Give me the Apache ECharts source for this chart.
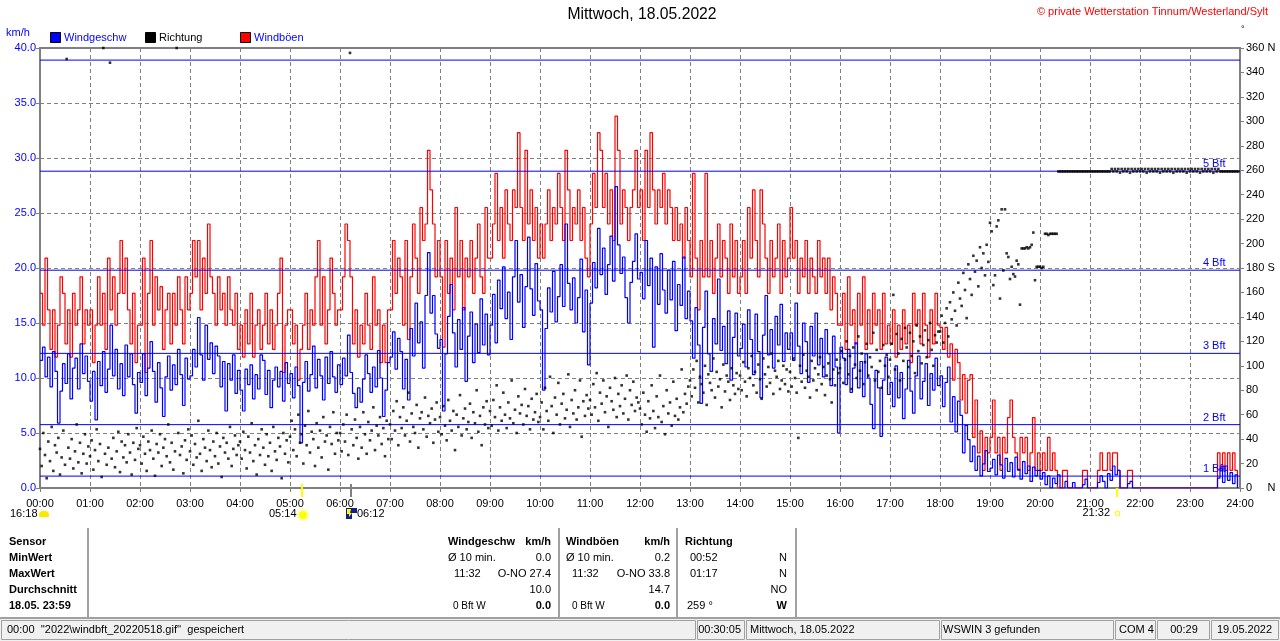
<!DOCTYPE html>
<html><head><meta charset="utf-8">
<script src="https://cdn.jsdelivr.net/npm/echarts/dist/echarts.min.js"></script>
<style>html,body{margin:0;padding:0;background:#fff}#c{width:1280px;height:641px}</style>
</head><body><div id="c"></div>
<script>
// ---- data ----
const speedStepMin = 3;   // minutes between speed / gust samples
const dirStepMin = 2;     // minutes between direction samples

const speedKmh = [
 11.6,12.8,10.1,11.9,9.2,12.4,10.6,5.9,8.8,11.3,9.5,12.2,8.1,10.9,11.8,9.0,13.1,10.4,12.0,9.7,
 7.9,10.6,6.2,11.5,9.3,12.4,8.7,10.8,14.8,10.2,12.6,9.0,11.3,8.4,13.0,10.1,12.2,9.4,6.8,10.5,
 9.6,12.2,8.4,10.9,13.3,10.6,7.8,11.4,9.1,6.5,10.1,12.0,8.9,11.2,9.4,12.6,10.3,7.5,11.8,9.9,
 10.2,12.6,11.0,15.5,12.1,9.8,14.8,11.7,13.2,10.4,12.9,12.0,9.2,11.5,7.0,11.3,9.8,12.1,8.6,10.7,
 8.9,7.0,10.8,9.4,11.2,8.1,10.3,9.0,12.1,11.6,8.5,10.7,7.3,9.8,11.0,9.2,10.6,7.9,11.4,9.5,
 10.4,8.2,11.0,9.3,4.1,9.6,11.5,8.8,10.3,12.9,9.1,11.7,10.2,8.0,11.9,9.5,12.4,10.1,8.7,11.2,
 9.4,11.8,10.2,13.9,10.5,8.6,7.3,9.1,7.8,9.9,12.1,10.4,8.7,11.0,9.2,12.5,10.0,6.5,8.9,11.4,
 11.9,14.2,10.8,13.6,12.4,9.0,11.7,8.0,14.5,12.0,16.8,13.2,15.1,10.9,17.5,21.4,15.9,17.5,14.0,12.7,
 13.5,7.0,12.2,15.6,18.5,14.1,11.0,15.3,12.6,16.4,9.7,13.8,16.0,11.4,14.9,12.3,17.2,13.0,15.8,12.1,
 14.8,17.6,13.2,18.9,16.3,20.1,15.4,17.8,13.5,19.2,22.5,16.9,19.4,14.6,18.3,22.8,18.1,15.7,20.4,17.0,
 16.2,8.9,14.5,18.2,16.0,19.7,15.1,17.4,20.3,16.5,24.0,18.6,16.2,19.1,15.0,17.3,20.8,14.2,18.0,11.2,
 16.8,20.5,18.2,23.6,19.4,21.8,17.6,20.3,22.9,18.8,27.4,22.1,19.5,21.0,17.3,15.0,18.7,20.6,23.1,19.0,
 19.6,17.2,22.5,18.4,20.9,12.8,20.1,16.7,21.3,18.0,15.9,19.8,17.1,20.6,14.3,18.5,16.6,21.0,15.4,17.9,
 15.2,11.8,16.4,13.0,7.7,14.6,17.9,12.2,10.6,15.4,13.1,19.0,12.5,14.7,11.3,16.1,9.8,13.7,15.9,12.0,
 12.7,14.9,11.0,16.2,13.5,10.3,15.8,12.4,8.2,13.9,17.5,12.1,14.4,10.9,15.6,13.0,16.7,11.5,14.1,12.6,
 14.1,11.6,16.8,12.9,10.4,15.0,13.3,9.6,14.7,12.0,15.9,11.2,13.6,10.1,14.4,12.2,9.3,13.8,11.0,5.0,
 12.8,11.8,9.4,12.6,8.7,10.9,13.2,9.1,11.5,8.3,12.2,10.0,7.6,5.4,10.7,9.1,4.7,9.8,11.9,8.5,
 9.6,7.4,11.1,8.2,10.5,6.3,9.0,11.6,8.8,6.8,10.2,12.0,8.1,9.7,11.3,7.5,10.4,8.9,11.8,9.3,
 10.2,7.4,9.6,11.0,6.0,8.3,5.1,7.9,6.6,3.2,5.7,4.4,2.4,3.8,1.6,2.9,1.1,2.2,3.4,1.5,
 1.8,2.6,1.2,3.0,2.1,0.9,2.7,1.5,2.3,1.0,2.8,1.7,0.8,2.4,1.3,2.0,0.6,1.9,1.1,1.6,
 0.8,1.4,0.3,1.1,0.0,0.9,0.4,1.2,0.0,0.0,0.6,0.0,0.0,0.5,0.0,0.0,0.0,0.3,0.8,0.0,
 0.0,0.0,0.0,0.5,1.1,0.6,0.0,1.3,0.7,2.0,1.2,1.6,0.0,0.0,0.0,0.4,0.6,0.0,0.0,0.0,
 0,0,0,0,0,0,0,0,0,0,0,0,0,0,0,0,0,0,0,0,
 0,0,0,0,0,0,0,0,0,0,0,0.9,1.8,0.5,2.0,0.7,1.4,0.4,1.2,0.0
];

const gustKmh = [
 17.7,14.8,20.9,16.2,12.6,16.2,11.9,14.8,19.2,17.7,13.1,16.2,11.9,17.7,14.8,16.2,19.2,13.1,16.2,14.8,
 16.2,11.4,14.8,19.2,14.8,17.7,12.6,20.9,16.2,19.2,14.8,17.7,22.5,17.7,20.9,16.2,13.1,17.7,11.4,14.8,
 14.8,20.9,10.5,17.7,22.5,14.8,19.2,16.2,18.3,12.6,16.2,17.7,13.1,17.7,14.8,19.2,16.2,13.1,19.2,16.2,
 17.7,22.5,19.2,22.5,16.2,20.9,17.7,24.0,19.2,17.7,14.8,19.2,16.2,17.7,14.8,19.2,16.2,14.8,17.7,12.6,
 14.8,11.9,16.2,13.1,17.7,11.9,14.8,16.2,12.6,14.8,17.7,13.1,16.2,12.6,14.8,17.7,20.9,10.5,14.8,16.2,
 16.2,13.1,14.8,9.8,12.6,14.8,17.7,12.6,16.2,14.8,19.2,22.5,14.8,19.2,13.1,16.2,20.9,17.7,14.8,16.2,
 16.2,19.2,24.0,22.5,19.2,13.1,16.2,11.9,14.8,13.1,17.7,14.8,12.6,19.2,14.8,16.2,11.4,14.8,11.4,16.2,
 16.2,22.5,17.7,20.9,19.2,14.8,22.5,13.5,19.2,24.0,20.9,17.7,25.5,22.5,24.0,30.7,27.1,24.0,19.2,22.5,
 19.2,12.8,22.5,17.7,20.9,16.2,25.5,19.2,22.5,16.2,20.9,19.2,22.5,17.7,20.9,24.0,19.2,17.7,25.5,20.9,
 20.9,24.0,28.6,22.5,25.5,20.9,27.1,24.0,22.5,27.1,25.5,32.3,25.5,22.5,30.7,24.0,27.1,22.5,25.5,20.9,
 24.0,20.9,24.0,27.1,22.5,25.5,24.0,28.6,25.5,22.5,30.7,27.1,22.5,25.5,24.0,27.1,22.5,25.5,20.9,19.2,
 24.0,28.6,25.5,32.3,30.7,25.5,28.6,24.0,27.1,22.5,33.8,30.7,24.0,27.1,25.5,22.5,25.5,27.1,30.7,25.5,
 27.1,22.5,30.7,25.5,32.3,27.1,24.0,27.1,25.5,28.6,24.0,27.1,25.5,22.5,25.5,22.5,24.0,20.9,25.5,22.5,
 19.2,28.6,20.9,16.2,22.5,19.2,28.6,19.2,22.5,17.7,20.9,24.0,19.2,22.5,20.9,17.7,24.0,19.2,22.5,17.7,
 19.2,22.5,17.7,25.5,20.9,27.1,22.5,19.2,27.1,24.0,20.9,17.7,22.5,19.2,20.9,24.0,17.7,22.5,19.2,20.9,
 25.5,20.9,22.5,17.7,20.9,19.2,22.5,17.7,20.9,19.2,17.7,22.5,19.2,20.9,17.7,20.9,16.2,19.2,17.7,14.8,
 14.8,17.7,12.6,19.2,14.8,16.2,13.1,17.7,14.8,19.2,12.6,16.2,13.1,17.7,14.8,16.2,12.6,17.7,13.1,14.8,
 13.1,16.2,11.9,14.8,12.6,16.2,13.1,14.8,11.4,17.7,14.8,16.2,13.1,17.7,14.8,11.9,16.2,13.1,17.7,14.8,
 14.6,12.6,14.6,11.9,13.1,9.8,12.6,11.4,8.0,10.3,6.8,9.8,10.3,4.6,8.0,3.2,5.2,1.6,4.6,3.2,
 4.6,8.0,3.2,4.6,1.6,4.6,3.2,6.4,8.0,4.6,3.2,1.6,4.6,3.2,4.6,1.6,3.2,6.4,1.6,3.2,
 1.6,3.2,1.6,4.6,1.6,3.2,1.6,0.0,0.0,1.6,1.6,0.0,0.0,0.0,0.0,0.0,0.0,1.6,1.6,0.0,
 0.0,0.0,0.0,1.6,3.2,1.6,1.6,3.2,1.6,3.2,3.2,1.6,0.0,0.0,0.0,1.6,1.6,0.0,0.0,0.0,
 0,0,0,0,0,0,0,0,0,0,0,0,0,0,0,0,0,0,0,0,
 0,0,0,0,0,0,0,0,0,0,0,3.2,1.6,3.2,1.6,3.2,1.6,3.2,1.6,0.0
];

const dirDeg = [
 32,18,45,27,8,38,22,50,14,35,29,41,11,25,47,19,351,33,24,40,16,30,52,21,37,12,28,44,20,34,
 26,39,15,31,48,22,36,9,360,28,19,33,348,24,41,17,30,46,13,38,25,35,21,44,29,11,37,23,49,32,
 35,20,42,28,14,38,31,47,24,10,36,29,44,18,33,40,26,52,21,37,15,30,360,45,27,34,12,39,23,48,
 30,43,19,36,25,55,28,14,40,33,22,47,31,17,38,26,45,20,34,9,41,29,37,24,50,18,32,43,27,35,
 38,24,46,31,16,42,29,53,22,35,11,40,27,48,33,19,44,26,37,14,50,30,23,41,34,8,45,28,39,21,
 42,55,31,48,26,60,37,44,20,51,35,63,29,46,40,18,53,33,47,25,58,38,43,15,50,36,62,28,45,39,
 45,30,52,38,60,27,356,48,35,56,41,24,50,33,62,44,28,54,39,47,66,31,51,43,58,36,49,26,55,40,
 52,40,63,47,71,35,58,49,66,43,55,78,38,61,50,45,68,33,57,62,48,74,42,59,53,65,37,56,70,46,
 58,44,67,51,39,72,55,47,63,31,60,50,76,43,57,65,48,54,69,41,62,53,80,46,59,35,66,52,71,49,
 63,51,72,58,84,47,66,55,78,60,49,70,57,88,53,64,45,75,61,68,52,81,59,67,48,73,56,62,77,54,
 58,70,48,82,63,55,91,67,45,74,60,86,52,69,77,57,64,93,50,72,61,80,56,66,88,42,71,59,76,65,
 72,60,85,66,94,55,78,69,88,62,75,50,82,71,64,90,58,77,67,84,61,73,92,56,80,68,87,63,74,70,
 65,52,78,60,46,71,57,84,63,49,75,58,92,54,67,44,80,61,70,51,87,59,73,56,66,97,62,77,69,83,
 88,75,97,82,104,70,91,85,78,100,68,93,86,80,106,74,95,83,89,66,101,79,92,87,72,98,84,77,94,81,
 92,80,103,87,75,98,90,108,84,95,78,101,89,73,106,93,83,99,86,110,77,96,91,104,81,88,100,85,97,79,
 95,83,106,90,78,41,100,87,109,82,96,91,74,104,88,98,80,93,107,85,99,76,92,102,89,70,97,84,105,94,
 98,112,86,105,120,93,108,81,115,101,90,124,96,110,85,103,118,92,107,99,127,88,113,95,104,82,117,100,109,91,
 105,118,158,97,126,110,88,122,104,131,115,99,127,108,120,94,133,112,124,102,117,129,107,121,135,113,100,125,119,128,
 128,141,119,135,147,124,152,138,160,145,133,168,155,149,176,162,139,183,171,158,190,177,186,165,197,180,192,174,199,185,
 217,210,166,174,214,219,155,228,178,228,192,189,171,181,175,173,186,183,150,196,196,196,197,196,197,199,209,170,181,181,
 181,180,181,208,208,207,208,208,208,208,208,259,259,259,259,259,259,259,259,259,259,259,259,259,259,259,259,259,259,259,
 259,259,259,259,259,259,259,259,259,259,259,259,259,261,259,261,259,261,258,261,259,261,259,261,258,261,259,261,259,261,
 259,261,259,261,258,261,259,261,259,261,259,261,258,261,259,261,259,261,259,261,258,261,259,261,259,261,259,261,258,261,
 259,261,259,261,259,261,258,261,259,261,259,261,259,261,258,261,259,261,259,259,259,259,259,259,259,259,259,259,259,259
];

const bftLevels = [1.08, 5.76, 12.24, 19.8, 28.8, 38.9];
const bftLabels = ['1 Bft', '2 Bft', '3 Bft', '4 Bft', '5 Bft', ''];

// ---- build ----
const FONT = '"Liberation Sans", Arial, sans-serif';
const pairs = (arr, step) => arr.map((v, i) => [i * step, v]);

function T(x, y, text, o) {
  o = o || {};
  const al = o.align || 'left';
  return { type: 'text', x: x, y: y, silent: true, z: 100,
    style: { text: text, fill: o.fill || '#000',
      font: (o.bold ? 'bold ' : '') + (o.size || 11) + 'px ' + FONT,
      align: al, verticalAlign: 'middle', textAlign: al, textVerticalAlign: 'middle' } };
}
function L(x1, y1, x2, y2, c, w) {
  return { type: 'line', silent: true, z: 100, shape: { x1: x1, y1: y1, x2: x2, y2: y2 }, style: { stroke: c, lineWidth: w || 1 } };
}
function R(x, y, w, h, fill, stroke, lw) {
  return { type: 'rect', silent: true, z: 99, shape: { x: x, y: y, width: w, height: h },
    style: { fill: fill || 'none', stroke: stroke || 'none', lineWidth: lw || 1 } };
}

const graphics = [
  T(642, 15, 'Mittwoch, 18.05.2022', { size: 15.7, align: 'center' }),
  T(1268, 12, '\u00A9 private Wetterstation Tinnum/Westerland/Sylt', { fill: '#ff0000', align: 'right' }),
  T(1241, 30, '\u00B0', { size: 9 }),
  T(6, 33, 'km/h', { fill: '#0000ff' }),
  R(50.5, 32.5, 10, 10, '#0000ff', '#000'), T(64, 38, 'Windgeschw', { fill: '#0000ff' }),
  R(145.5, 32.5, 10, 10, '#000', '#000'), T(159, 38, 'Richtung'),
  R(240.5, 32.5, 10, 10, '#ff0000', '#000'), T(254, 38, 'Windb\u00F6en', { fill: '#0000ff' }),
  // markers below the time axis
  L(302, 484, 302, 497, '#ffff00', 2),
  L(351, 484, 351, 497, '#808080', 2),
  L(1117, 488, 1117, 497, '#ffff00', 2),
  T(10, 514, '16:18'),
  { type: 'rect', silent: true, z: 100, shape: { x: 39, y: 511, width: 10, height: 6, r: [4, 4, 1, 1] }, style: { fill: '#ffe800' } },
  T(269, 514, '05:14'),
  { type: 'circle', silent: true, z: 100, shape: { cx: 303, cy: 515, r: 6 }, style: { fill: '#ffffb0' } },
  { type: 'circle', silent: true, z: 101, shape: { cx: 303, cy: 515, r: 4 }, style: { fill: '#ffff00' } },
  R(346, 508, 11, 11, '#10208a'),
  R(352, 513, 5, 6, '#ffffff'),
  { type: 'polygon', silent: true, z: 101, shape: { points: [[347, 509], [351, 509], [350, 513], [352, 513], [349, 517], [349, 514], [347, 514]] }, style: { fill: '#ffff00' } },
  T(357, 514, '06:12'),
  T(1110, 513, '21:32', { align: 'right' }),
  R(1115.5, 511.5, 4, 4, 'none', '#ffff00', 1),
  // statistics table
  L(88, 528, 88, 617, '#a0a0a0', 2),
  L(559, 528, 559, 617, '#a0a0a0', 2),
  L(677, 528, 677, 617, '#a0a0a0', 2),
  L(796, 528, 796, 617, '#a0a0a0', 2),
  T(9, 542, 'Sensor', { bold: true }),
  T(9, 558, 'MinWert', { bold: true }),
  T(9, 574, 'MaxWert', { bold: true }),
  T(9, 590, 'Durchschnitt', { bold: true }),
  T(9, 606, '18.05. 23:59', { bold: true }),
  T(448, 542, 'Windgeschw', { bold: true }), T(551, 542, 'km/h', { bold: true, align: 'right' }),
  T(448, 558, '\u00D8 10 min.'), T(551, 558, '0.0', { align: 'right' }),
  T(454, 574, '11:32'), T(551, 574, 'O-NO 27.4', { align: 'right' }),
  T(551, 590, '10.0', { align: 'right' }),
  T(453, 606, '0 Bft W', { size: 10 }), T(551, 606, '0.0', { bold: true, align: 'right' }),
  T(566, 542, 'Windb\u00F6en', { bold: true }), T(670, 542, 'km/h', { bold: true, align: 'right' }),
  T(566, 558, '\u00D8 10 min.'), T(670, 558, '0.2', { align: 'right' }),
  T(572, 574, '11:32'), T(670, 574, 'O-NO 33.8', { align: 'right' }),
  T(670, 590, '14.7', { align: 'right' }),
  T(572, 606, '0 Bft W', { size: 10 }), T(670, 606, '0.0', { bold: true, align: 'right' }),
  T(685, 542, 'Richtung', { bold: true }),
  T(690, 558, '00:52'), T(787, 558, 'N', { align: 'right' }),
  T(690, 574, '01:17'), T(787, 574, 'N', { align: 'right' }),
  T(787, 590, 'NO', { align: 'right' }),
  T(687, 606, '259 \u00B0'), T(787, 606, 'W', { bold: true, align: 'right' }),
  // status bar
  R(0, 617, 1280, 24, '#f0f0f0'),
  L(0, 618, 1280, 618, '#a0a0a0', 2),
  R(1.5, 620.5, 694, 19, 'none', '#a0a0a0', 1),
  R(697.5, 620.5, 47, 19, 'none', '#a0a0a0', 1),
  R(746.5, 620.5, 193, 19, 'none', '#a0a0a0', 1),
  R(941.5, 620.5, 172, 19, 'none', '#a0a0a0', 1),
  R(1115.5, 620.5, 40, 19, 'none', '#a0a0a0', 1),
  R(1157.5, 620.5, 52, 19, 'none', '#a0a0a0', 1),
  R(1211.5, 620.5, 67, 19, 'none', '#a0a0a0', 1),
  T(7, 630, "00:00  ''2022\\windbft_20220518.gif''  gespeichert"),
  T(741, 630, '00:30:05', { align: 'right' }),
  T(750, 630, 'Mittwoch, 18.05.2022'),
  T(943, 630, 'WSWIN 3 gefunden'),
  T(1119, 630, 'COM 4'),
  T(1184, 630, '00:29', { align: 'center' }),
  T(1217, 630, '19.05.2022')
];

// Beaufort threshold lines drawn as plain two-point series, labelled by a markPoint at the right end
const bftSeries = bftLevels.map((v, i) => ({
  name: 'Bft ' + (i + 1), type: 'line', symbol: 'none', silent: true, z: 4,
  color: '#0000ff',
  lineStyle: { color: '#0000ff', width: 1, type: 'solid' },
  emphasis: { disabled: true },
  data: [[0, v], [1440, v]],
  markPoint: {
    silent: true, animation: false, symbol: 'rect', symbolSize: 1,
    itemStyle: { color: 'rgba(0,0,0,0)' },
    label: { show: bftLabels[i] !== '', position: 'left', distance: 0, offset: [-14, -7],
      color: '#0000ff', fontSize: 11, fontFamily: FONT, formatter: () => bftLabels[i] },
    data: [{ coord: [1440, v] }]
  }
}));

const chart = echarts.init(document.getElementById('c'), null, { renderer: 'canvas' });
const dash = { color: '#808080', type: [4, 3], width: 1 };
chart.setOption({
  animation: false,
  backgroundColor: '#ffffff',
  textStyle: { fontFamily: FONT },
  grid: { left: 40, right: 40, top: 48, bottom: 153, show: true, borderColor: '#808080', borderWidth: 2, backgroundColor: 'transparent' },
  xAxis: {
    type: 'value', min: 0, max: 1440, interval: 60,
    axisLine: { show: false },
    axisTick: { show: true, length: 4, lineStyle: { color: '#808080' } },
    axisLabel: { color: '#000', fontSize: 11, fontFamily: FONT, margin: 10,
      formatter: v => String(v / 60).padStart(2, '0') + ':00' },
    splitLine: { show: true, lineStyle: dash }
  },
  yAxis: [
    { type: 'value', min: 0, max: 40, interval: 5, position: 'left',
      axisLine: { show: false },
      axisTick: { show: true, length: 4, lineStyle: { color: '#808080' } },
      axisLabel: { color: '#0000ff', fontSize: 11, fontFamily: FONT, margin: 4, formatter: v => v.toFixed(1) },
      splitLine: { show: true, lineStyle: dash } },
    { type: 'value', min: 0, max: 360, interval: 20, position: 'right',
      axisLine: { show: false },
      axisTick: { show: true, length: 4, lineStyle: { color: '#808080' } },
      axisLabel: { color: '#000', fontSize: 11, fontFamily: FONT, margin: 6,
        formatter: v => v === 0 ? '0     N' : v === 180 ? '180 S' : v === 360 ? '360 N' : String(v) },
      splitLine: { show: false } }
  ],
  series: [
    { name: 'Windböen', type: 'line', step: 'end', symbol: 'none', z: 2,
      lineStyle: { color: '#ff0000', width: 1.2 }, data: pairs(gustKmh, speedStepMin) },
    { name: 'Windgeschw', type: 'line', step: 'end', symbol: 'none', z: 3,
      lineStyle: { color: '#0000ff', width: 1.2 }, data: pairs(speedKmh, speedStepMin) }
  ].concat(bftSeries).concat([
    { name: 'Richtung', type: 'scatter', yAxisIndex: 1, symbol: 'rect', symbolSize: 2.6, z: 5,
      itemStyle: { color: '#000000' }, data: pairs(dirDeg, dirStepMin) }
  ]),
  graphic: graphics
});
</script>
</body></html>
